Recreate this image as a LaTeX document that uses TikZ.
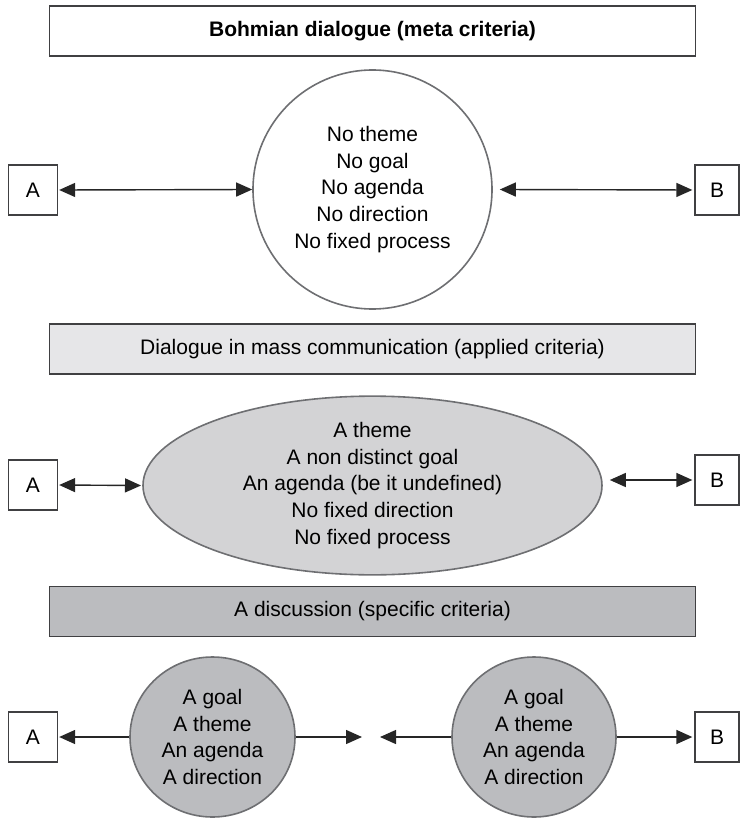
\documentclass[tikz,border=0pt]{standalone}
\usepackage{fontspec}
\setmainfont{Liberation Sans}
\usetikzlibrary{shapes.geometric,arrows.meta}
\definecolor{boxline}{HTML}{404042}
\definecolor{ovline}{HTML}{6E6F72}
\definecolor{fillA}{HTML}{E6E6E8}
\definecolor{fillB}{HTML}{D3D3D5}
\definecolor{fillC}{HTML}{BBBCBF}
\begin{document}
\begin{tikzpicture}[x=1pt,y=-1pt,
  txt/.style={font=\fontsize{21}{26.7}\selectfont, align=center, text=black},
  hbox/.style={draw=boxline, line width=1.4pt, minimum width=646pt, minimum height=50pt, inner sep=0pt, txt},
  sidebox/.style={draw=boxline, fill=white, line width=1.3pt, minimum width=49pt, minimum height=50pt, inner sep=0pt, txt},
  oval/.style={ellipse, draw=ovline, line width=1.6pt, inner sep=0pt, txt},
  tip/.tip={Triangle[length=16pt,width=14pt]},
  arr/.style={line width=1.4pt, draw=black!85, tip-tip},
  arrone/.style={line width=1.4pt, draw=black!85, -tip}
]
\useasboundingbox (0,0) rectangle (739,818);

% Row 1
\node[hbox, fill=white, font=\fontsize{21}{26.7}\selectfont\bfseries] (t1) at (372.5,31) {Bohmian dialogue (meta criteria)};
\node[oval, fill=white, minimum width=239pt, minimum height=239pt] (c1) at (372.5,189.5)
  {No theme\\No goal\\No agenda\\No direction\\No fixed process};
\node[sidebox] (a1) at (33,190) {A};
\node[sidebox, minimum width=44pt] (b1) at (717,190) {B};
\draw[arr, shorten <=1pt] (a1.east) -- (c1.west);
\draw[arr, shorten >=2pt] ([xshift=7pt]c1.east) -- (b1.west);

% Row 2
\node[hbox, fill=fillA] (t2) at (372.5,349) {Dialogue in mass communication (applied criteria)};
\node[oval, fill=fillB, minimum width=459pt, minimum height=175pt] (e2) at (372.5,485.5)
  {A theme\\A non distinct goal\\An agenda (be it undefined)\\No fixed direction\\No fixed process};
\node[sidebox] (a2) at (33,485) {A};
\node[sidebox, minimum width=44pt] (b2) at (717,480) {B};
\draw[arr, shorten <=1pt] (a2.east) -- (e2.west -| 141,485);
\draw[arr, shorten >=2pt] ([xshift=7pt]e2.east |- b2.west) -- (b2.west);

% Row 3
\node[hbox, fill=fillC] (t3) at (372.5,611.5) {A discussion (specific criteria)};
\node[oval, fill=fillC, minimum width=165pt, minimum height=160pt] (e3) at (212.5,737)
  {A goal\\A theme\\An agenda\\A direction};
\node[oval, fill=fillC, minimum width=164pt, minimum height=160pt] (e4) at (534,737)
  {A goal\\A theme\\An agenda\\A direction};
\node[sidebox] (a3) at (33,737) {A};
\node[sidebox, minimum width=44pt] (b3) at (717,737) {B};
\coordinate (m1) at (362,737);
\coordinate (m2) at (380,737);
\draw[arrone, shorten >=1pt] (e3.west) -- (a3.east);
\draw[arrone] (e3.east) -- (m1);
\draw[arrone] (e4.west) -- (m2);
\draw[arrone, shorten >=2pt] (e4.east) -- (b3.west);
\end{tikzpicture}
\end{document}
